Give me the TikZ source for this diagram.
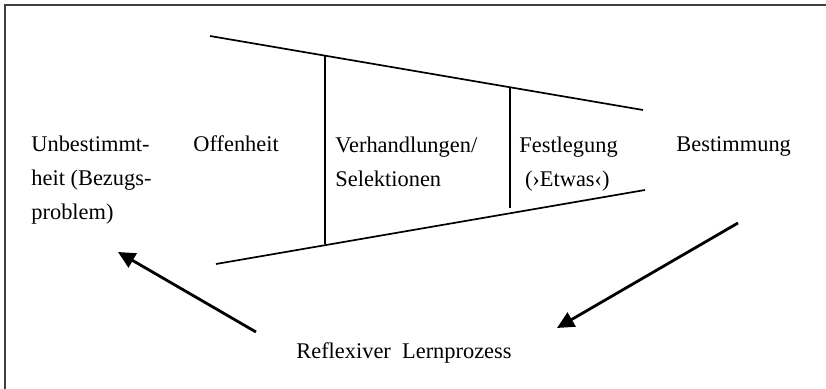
\documentclass[tikz,border=0pt]{standalone}
\usepackage{fontspec}
\setmainfont{Liberation Serif}
\usetikzlibrary{arrows.meta}

\tikzset{
  txt/.style={anchor=base west, inner sep=0pt, align=left, font=\fontsize{11.2}{17}\selectfont},
  linie/.style={line width=0.85pt},
  pfeil/.style={line width=1.4pt, -{Triangle[length=8.5pt,width=8pt]}}
}

\begin{document}
\begin{tikzpicture}[x=0.5pt,y=-0.5pt]
            \useasboundingbox (0,0) rectangle (826,389);
            \draw[line width=1pt,black!75] (826,5) -- (5,5) -- (5,389); % rahmen
            % trichter
            \coordinate (oa) at (210,36);
            \coordinate (ob) at (643,110);
            \coordinate (ua) at (216,264);
            \coordinate (ub) at (645,190);
            \draw[linie] (oa) -- (ob);
            \draw[linie] (ua) -- (ub);
            \draw[linie] (325,56) -- (325,244);
            \draw[linie] (510,88) -- (510,208);
            % texte (base = letzte zeile)
            \node[txt] (unbest) at (31,220) {Unbestimmt-\\heit (Bezugs-\\problem)};
            \node[txt] (offen) at (193,152) {Offenheit};
            \node[txt] (verh) at (335,187) {Verhandlungen/\\Selektionen};
            \node[txt] (fest) at (519,187) {Festlegung\\\ (›Etwas‹)};
            \node[txt] (best) at (676,152) {Bestimmung};
            \node[txt] (lern) at (296,359) {Reflexiver\ \ Lernprozess};
            % pfeile
            \coordinate (p1a) at (256,332);
            \coordinate (p1b) at (118,252);
            \coordinate (p2a) at (738,223);
            \coordinate (p2b) at (557,328);
            \draw[pfeil] (p1a) -- (p1b);
            \draw[pfeil] (p2a) -- (p2b);
\end{tikzpicture}
\end{document}
